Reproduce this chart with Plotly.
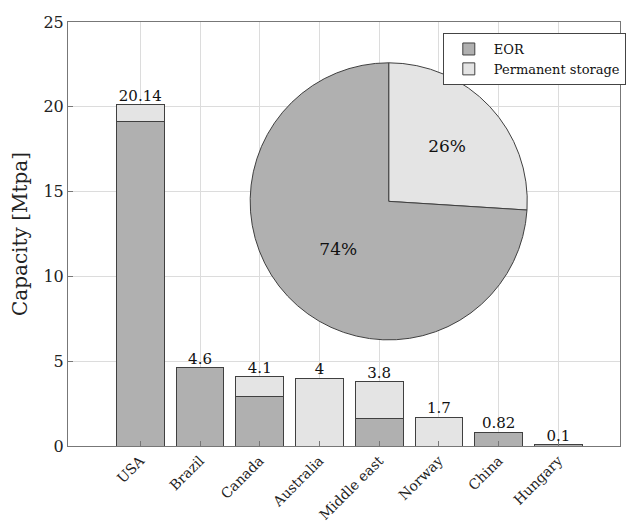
import plotly.graph_objects as go

countries = ["USA", "Brazil", "Canada", "Australia", "Middle east", "Norway", "China", "Hungary"]
eor = [19.14, 4.6, 2.9, 0.0, 1.6, 0.0, 0.82, 0.1]
storage = [1.0, 0.0, 1.2, 4.0, 2.2, 1.7, 0.0, 0.0]
totals = [20.14, 4.6, 4.1, 4, 3.8, 1.7, 0.82, 0.1]
total_labels = ["20.14", "4.6", "4.1", "4", "3.8", "1.7", "0.82", "0.1"]
pie_labels = ["Permanent storage", "EOR"]
pie_values = [26, 74]

EOR_C = "#b0b0b0"
STO_C = "#e4e4e4"
EDGE = "#404040"
FONT = "'DejaVu Serif', serif"

x = list(range(len(countries)))

fig = go.Figure()
fig.add_trace(go.Bar(x=x, y=eor, name="EOR", width=0.8,
                     marker=dict(color=EOR_C, line=dict(color=EDGE, width=1))))
fig.add_trace(go.Bar(x=x, y=storage, name="Permanent storage", width=0.8,
                     marker=dict(color=STO_C, line=dict(color=EDGE, width=1))))
fig.add_trace(go.Scatter(x=x, y=totals, mode="text", text=total_labels,
                         textposition="top center", showlegend=False,
                         textfont=dict(family=FONT, size=15, color="#111")))
fig.add_trace(go.Pie(labels=pie_labels, values=pie_values, sort=False,
                     direction="clockwise", rotation=0, showlegend=False,
                     marker=dict(colors=[STO_C, EOR_C], line=dict(color=EDGE, width=1)),
                     textinfo="percent", textposition="inside",
                     insidetextorientation="horizontal",
                     texttemplate="%{percent:.0%}",
                     textfont=dict(family=FONT, size=17, color="#111"),
                     domain=dict(x=[0.33, 0.832], y=[0.248, 0.906])))

fig.update_layout(
    barmode="stack",
    width=626, height=522,
    margin=dict(l=68, r=0, t=22, b=76),
    plot_bgcolor="white", paper_bgcolor="white",
    font=dict(family=FONT, size=15, color="#222"),
    legend=dict(x=0.679, y=0.974, xanchor="left", yanchor="top",
                traceorder="normal",
                bgcolor="white", bordercolor="#444", borderwidth=1,
                font=dict(family=FONT, size=13, color="#111"),
                tracegroupgap=0, itemwidth=40),
    xaxis=dict(tickmode="array", tickvals=x, ticktext=countries,
               range=[-1.21, 8.03], tickangle=-45, automargin=False,
               showgrid=True, gridcolor="#dcdcdc", gridwidth=1,
               showline=True, linecolor="#777", linewidth=1, mirror=True,
               ticks="inside", ticklen=5, tickcolor="#777", zeroline=False,
               ticklabelstandoff=0,
               tickfont=dict(family=FONT, size=14, color="#222")),
    yaxis=dict(range=[0, 25], tickvals=[0, 5, 10, 15, 20, 25], automargin=False,
               showgrid=True, gridcolor="#dcdcdc", gridwidth=1,
               showline=True, linecolor="#777", linewidth=1, mirror=True,
               ticks="inside", ticklen=5, tickcolor="#777", zeroline=False,
               title=dict(text="Capacity [Mtpa]", font=dict(family=FONT, size=20, color="#222"), standoff=10),
               tickfont=dict(family=FONT, size=16, color="#222")),
)

fig.write_html("out.html")
